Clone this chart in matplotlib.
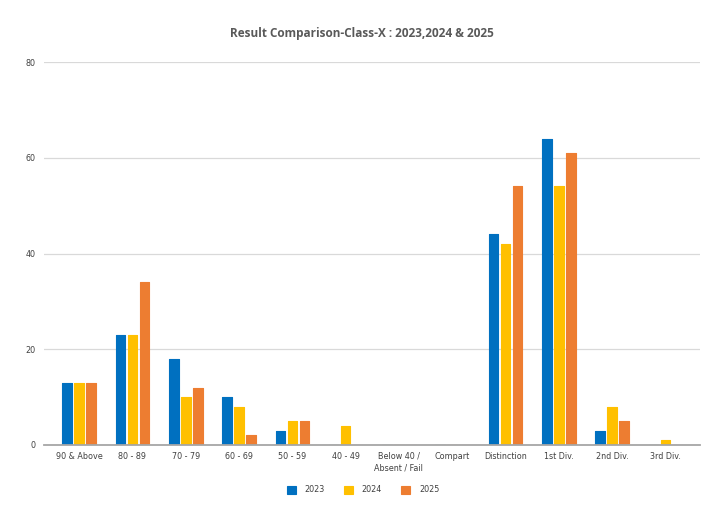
import numpy as np
import matplotlib
matplotlib.use("Agg")
from matplotlib import pyplot as plt

categories = ["90 & Above", "80 - 89", "70 - 79", "60 - 69", "50 - 59", "40 - 49",
              "Below 40 /\nAbsent / Fail", "Compart", "Distinction", "1st Div.",
              "2nd Div.", "3rd Div."]
years = ["2023", "2024", "2025"]
v2023 = [13, 23, 18, 10, 3, 0, 0, 0, 44, 64, 3, 0]
v2024 = [13, 23, 10, 8, 5, 4, 0, 0, 42, 54, 8, 1]
v2025 = [13, 34, 12, 2, 5, 0, 0, 0, 54, 61, 5, 0]
colors = ["#0070C0", "#FFC000", "#ED7D31"]

W, H = 724, 519
fig = plt.figure(figsize=(W / 100, H / 100), dpi=100)
ax = fig.add_axes([44 / W, (H - 445) / H, (700 - 44) / W, (445 - 62) / H])

x = np.arange(len(categories))
bw = 0.18
step = 0.225
for k, (vals, c, lab) in enumerate(zip([v2023, v2024, v2025], colors, years)):
    ax.bar(x + (k - 1) * step, vals, width=bw, color=c, edgecolor=c,
           linewidth=0.8, joinstyle="round", label=lab, zorder=3)

ax.set_xlim(-0.66, 11.65)
ax.set_ylim(0, 80)
ax.set_yticks([0, 20, 40, 60, 80])
ax.grid(axis="y", color="#d9d9d9", linewidth=0.9, zorder=0)
for s in ["top", "right", "left"]:
    ax.spines[s].set_visible(False)
ax.spines["bottom"].set_color("#a6a6a6")
ax.spines["bottom"].set_linewidth(1.3)
ax.spines["bottom"].set_zorder(4)
ax.tick_params(axis="both", length=0, labelsize=5.8, labelcolor="#404040")
ax.tick_params(axis="x", pad=5)
ax.tick_params(axis="y", pad=6)
ax.set_xticks(x)
ax.set_xticklabels(categories, linespacing=1.3)

fig.text(362 / W, 1 - 33 / H, "Result Comparison-Class-X : 2023,2024 & 2025",
         ha="center", va="center", fontsize=8.5, fontweight="bold",
         color="#595959", family="Open Sans")

fig.legend(loc="center", bbox_to_anchor=(363 / W, 1 - 490 / H), ncol=3,
           frameon=False, fontsize=5.8, handlelength=1.1, handleheight=1.1,
           columnspacing=2.4, handletextpad=1.1, labelcolor="#404040")

fig.savefig("out.png", dpi=100, facecolor="white")
